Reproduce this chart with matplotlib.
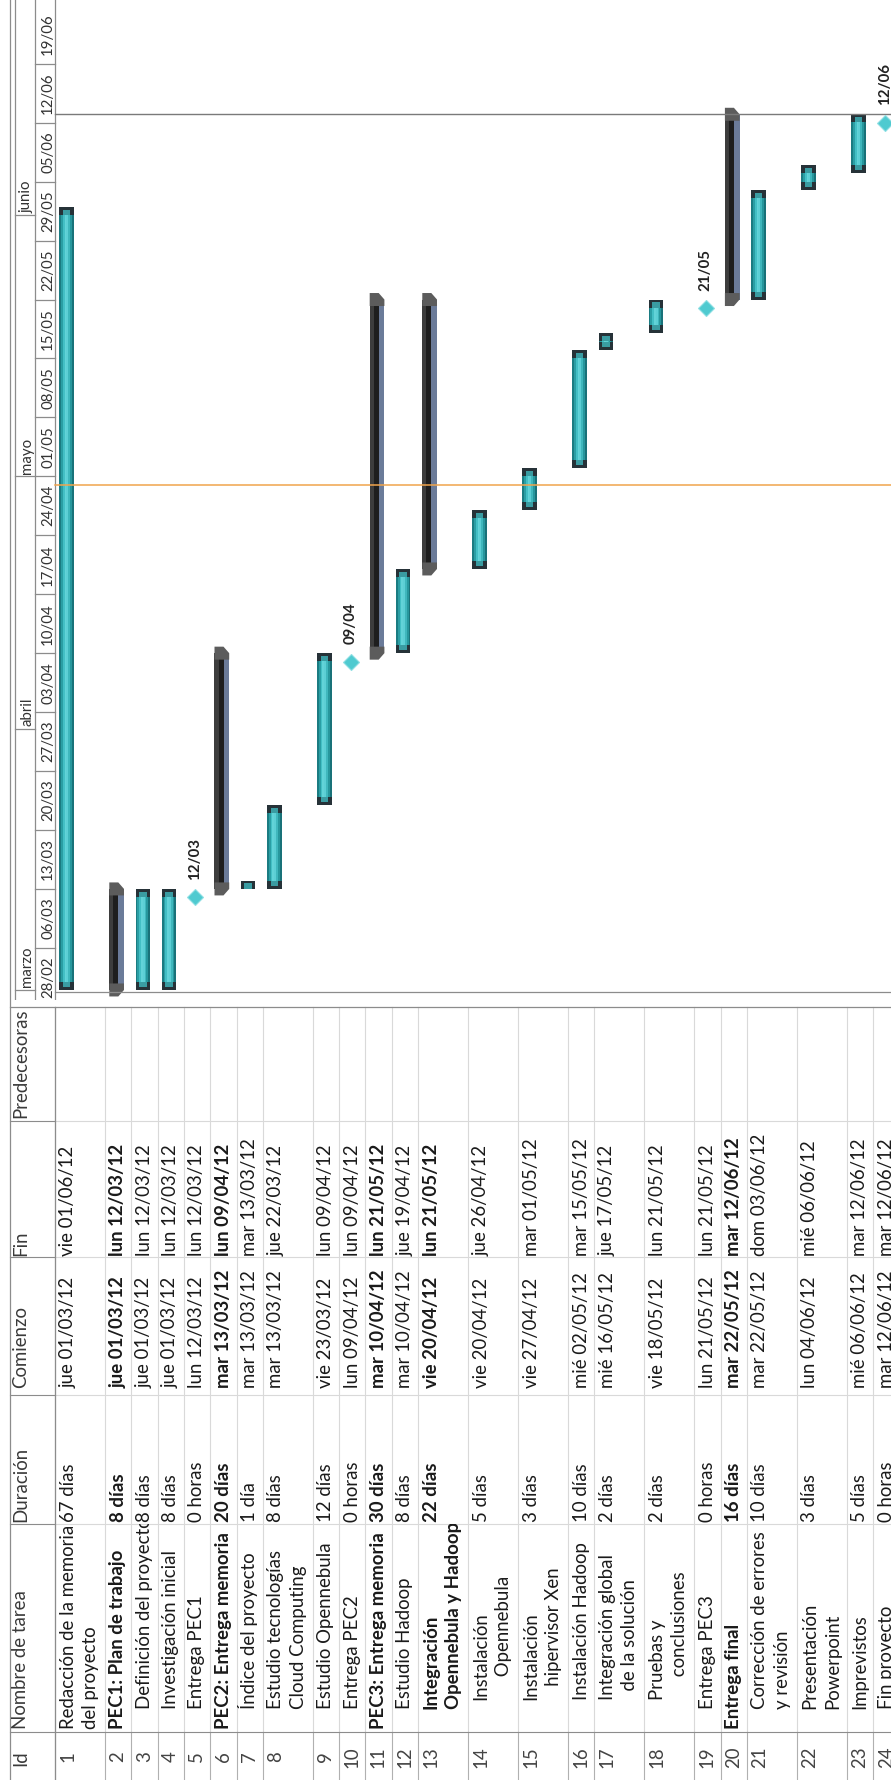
import numpy as np
import matplotlib.pyplot as plt
from datetime import datetime
from matplotlib.transforms import Bbox, TransformedBbox

plt.rcParams['font.family'] = ['Lato', 'DejaVu Sans']

# ---- datos del proyecto (MS Project, vista Gantt girada) ----
columnas = ['Id', 'Nombre de tarea', 'Duración', 'Comienzo', 'Fin', 'Predecesoras']
nombres = [
    'Redacción de la memoria\ndel proyecto',
    'PEC1: Plan de trabajo',
    'Definición del proyecto',
    'Investigación inicial',
    'Entrega PEC1',
    'PEC2: Entrega memoria',
    'Índice del proyecto',
    'Estudio tecnologías\nCloud Computing',
    'Estudio Opennebula',
    'Entrega PEC2',
    'PEC3: Entrega memoria',
    'Estudio Hadoop',
    'Integración\nOpennebula y Hadoop',
    'Instalación\n     Opennebula',
    'Instalación\n   hipervisor Xen',
    'Instalación Hadoop',
    'Integración global\n  de la solución',
    'Pruebas y\n     conclusiones',
    'Entrega PEC3',
    'Entrega final',
    'Corrección de errores\ny revisión',
    'Presentación\nPowerpoint',
    'Imprevistos',
    'Fin proyecto',
]
niveles = [0, 0, 1, 1, 1, 0, 1, 1, 1, 1, 0, 1, 1, 2, 2, 2, 2, 2, 1, 0, 1, 1, 1, 1]
duraciones = ['67 días', '8 días', '8 días', '8 días', '0 horas', '20 días', '1 día', '8 días',
              '12 días', '0 horas', '30 días', '8 días', '22 días', '5 días', '3 días', '10 días',
              '2 días', '2 días', '0 horas', '16 días', '10 días', '3 días', '5 días', '0 horas']
comienzos = ['jue 01/03/12', 'jue 01/03/12', 'jue 01/03/12', 'jue 01/03/12', 'lun 12/03/12',
             'mar 13/03/12', 'mar 13/03/12', 'mar 13/03/12', 'vie 23/03/12', 'lun 09/04/12',
             'mar 10/04/12', 'mar 10/04/12', 'vie 20/04/12', 'vie 20/04/12', 'vie 27/04/12',
             'mié 02/05/12', 'mié 16/05/12', 'vie 18/05/12', 'lun 21/05/12', 'mar 22/05/12',
             'mar 22/05/12', 'lun 04/06/12', 'mié 06/06/12', 'mar 12/06/12']
fines = ['vie 01/06/12', 'lun 12/03/12', 'lun 12/03/12', 'lun 12/03/12', 'lun 12/03/12',
         'lun 09/04/12', 'mar 13/03/12', 'jue 22/03/12', 'lun 09/04/12', 'lun 09/04/12',
         'lun 21/05/12', 'jue 19/04/12', 'lun 21/05/12', 'jue 26/04/12', 'mar 01/05/12',
         'mar 15/05/12', 'jue 17/05/12', 'lun 21/05/12', 'lun 21/05/12', 'mar 12/06/12',
         'dom 03/06/12', 'mié 06/06/12', 'mar 12/06/12', 'mar 12/06/12']
resumen = [2, 6, 11, 13, 20]
hitos = [5, 10, 19, 24]
semanas = ['28/02', '06/03', '13/03', '20/03', '27/03', '03/04', '10/04', '17/04', '24/04',
           '01/05', '08/05', '15/05', '22/05', '29/05', '05/06', '12/06', '19/06']
meses = ['marzo', 'abril', 'mayo', 'junio']
inicio_meses = ['01/03', '01/04', '01/05', '01/06']
hoy = '30/04'


def dia(txt):
    f = txt.split()[-1]
    if len(f) == 5:
        f += '/12'
    return (datetime.strptime(f, '%d/%m/%y') - datetime(2012, 2, 28)).days


# ---- geometria (pixeles de la captura) ----
ANCHO, ALTO = 891, 1780
PX_DIA, Y_DIA0, ALTO_G = 8.42, 1006.8, 1000
borde_col = [1780, 1731.7, 1524, 1395, 1257, 1120.7, 1006.7]
ini_texto = [1757, 1729, 1521.5, 1388, 1256, 1118]
sangria = [0, 20, 29]
alto_fila = [26.3 + 23.7 * n.count('\n') for n in nombres]
x_fila = 55 + np.concatenate([[0], np.cumsum(alto_fila)[:-1]])
fin_filas = x_fila[-1] + alto_fila[-1]

fig = plt.figure(figsize=(ANCHO / 100, ALTO / 100), dpi=100)
rend = fig.canvas.get_renderer()


def ajustar(txt, ancho, peso='normal'):
    t = fig.text(0, 0, txt, fontsize=10, fontweight=peso)
    w = t.get_window_extent(rend).width
    t.remove()
    return 10 * ancho / w


fs = ajustar('Redacción de la memoria', 204)
fs_sem = ajustar('05/06', 41.5)
fs_hito = ajustar('12/03', 42, 'bold')

gris = '#8c8c8c'
claro = '#d9d9d9'

# ---- tabla ----
ax_t = fig.add_axes([0, 0, 1, 1])
ax_t.set_xlim(0, ANCHO)
ax_t.set_ylim(ALTO, 0)
ax_t.axis('off')

for x in list(x_fila) + [fin_filas]:
    ax_t.plot([x, x], [borde_col[-1], borde_col[1]], color=claro, lw=0.8)
    ax_t.plot([x, x], [borde_col[1], ALTO], color='#b0b0b0', lw=0.8)
for y in borde_col[2:-1]:
    ax_t.plot([55, ANCHO], [y, y], color=claro, lw=0.8)
    ax_t.plot([10, 55], [y, y], color=gris, lw=0.8)
ax_t.plot([10, ANCHO], [borde_col[1], borde_col[1]], color=gris, lw=0.8)
ax_t.plot([10, ANCHO], [borde_col[-1], borde_col[-1]], color=gris, lw=0.9)
ax_t.plot([55, 55], [borde_col[-1], ALTO], color=gris, lw=0.9)
ax_t.plot([10, 10], [0, ALTO], color=gris, lw=0.9)

for c, y0 in zip(columnas, [1766.5] + ini_texto[1:]):
    ax_t.text(26.5, y0, c, rotation=90, rotation_mode='anchor', ha='left', va='baseline',
              fontsize=fs, color='#3a3a3a')

for i, nom in enumerate(nombres):
    x0 = x_fila[i]
    peso = 'bold' if i + 1 in resumen else 'normal'
    base = x0 + 18.5
    ax_t.text(base, ini_texto[0], str(i + 1), rotation=90, rotation_mode='anchor',
              ha='center', va='baseline', fontsize=fs, color='#444444')
    celda = TransformedBbox(Bbox([[x0, borde_col[2]], [x0 + alto_fila[i], borde_col[1]]]),
                            ax_t.transData)
    for k, linea in enumerate(nom.split('\n')):
        t = ax_t.text(base + 22.6 * k, ini_texto[1] - sangria[niveles[i]], linea, rotation=90,
                      rotation_mode='anchor', ha='left', va='baseline', fontsize=fs,
                      fontweight=peso, color='#1a1a1a')
        t.set_clip_box(celda)
        t.set_clip_on(True)
    for txt, y0 in zip([duraciones[i], comienzos[i], fines[i]], ini_texto[2:5]):
        ax_t.text(base, y0, txt, rotation=90, rotation_mode='anchor', ha='left',
                  va='baseline', fontsize=fs, fontweight=peso, color='#1a1a1a')

# ---- diagrama de Gantt ----
ax_g = fig.add_axes([0, 1 - ALTO_G / ALTO, 1, ALTO_G / ALTO])
ax_g.set_xlim(0, ANCHO)
ax_g.set_ylim((Y_DIA0 - ALTO_G) / PX_DIA, Y_DIA0 / PX_DIA)
ax_g.axis('off')

d_min, d_max = ax_g.get_ylim()
for x in (15, 35, 55):
    ax_g.plot([x, x], [d_min, d_max], color=gris, lw=0.9)
ax_g.plot([55, ANCHO], [(Y_DIA0 - 991.7) / PX_DIA] * 2, color=gris, lw=0.9)

for s in semanas:
    d = dia(s)
    ax_g.plot([35, 55], [d, d], color=gris, lw=0.9)
    ax_g.text(52, d + 3.5, s, rotation=90, rotation_mode='anchor', ha='center',
              va='baseline', fontsize=fs_sem, color='#333333', clip_on=True)
for m, f in zip(meses, inicio_meses):
    d = dia(f)
    ax_g.plot([15, 35], [d, d], color=gris, lw=0.9)
    ax_g.text(31, d + 0.3, m, rotation=90, rotation_mode='anchor', ha='left',
              va='baseline', fontsize=fs_sem, color='#333333', clip_on=True)

# linea de hoy y fin del proyecto
ax_g.plot([55, ANCHO], [dia(hoy)] * 2, color='#f0a44c', lw=1.1)
d_fin = max(dia(f) for f in fines) + 1
ax_g.plot([55, ANCHO], [d_fin] * 2, color='#7a7a7a', lw=1.0)

degradado = ['#1b7c82', '#2a9ea4', '#43bfc5', '#62d3d8', '#5ccfd5', '#3fb7bd', '#27979d', '#197279']
tapa = 8 / PX_DIA
hueco = 2.8 / PX_DIA
punta = 6.5 / PX_DIA

for i in range(len(nombres)):
    x0 = x_fila[i]
    s, e = dia(comienzos[i]), dia(fines[i]) + 1
    if i + 1 in hitos:
        xc = x0 + 11.5
        ax_g.plot(xc, s, marker='D', ms=8.5, mfc='#4fcad0', mec='#8fdfe3', mew=0.8)
        ax_g.annotate(comienzos[i].split()[1][:5], (xc, s), xytext=(0, 12.5),
                      textcoords='offset points', rotation=90, rotation_mode='anchor',
                      ha='left', va='center', fontsize=fs_hito, fontweight='bold',
                      color='#222222')
    elif i + 1 in resumen:
        ax_g.bar(x0 + 6.3, e - s, bottom=s, width=4.2, color='#3d3d3d', lw=0)
        ax_g.bar(x0 + 11.0, e - s, bottom=s, width=5.4, color='#1e1e1e', lw=0)
        ax_g.bar(x0 + 16.2, e - s, bottom=s, width=5.6, color='#6b7b99', lw=0)
        for base, signo in ((s, -1), (e, 1)):
            xs = [x0 + 4.3, x0 + 19, x0 + 19, x0 + 13.3, x0 + 4.3]
            ys = [base - signo * punta, base - signo * punta, base,
                  base + signo * punta, base + signo * punta]
            ax_g.fill(xs, ys, color='#5c5c5c', lw=0)
    else:
        w = 14.4 / len(degradado)
        for k, c in enumerate(degradado):
            ax_g.bar(x0 + 4.3 + (k + 0.5) * w, e - s, bottom=s, width=w * 1.08,
                     color=c, lw=0)
        for base, signo in ((s, 1), (e, -1)):
            ax_g.bar(x0 + 11.5, signo * tapa, bottom=base, width=14.4, color='#263238', lw=0)
            ax_g.bar(x0 + 11.5, signo * (tapa - hueco), bottom=base + signo * hueco,
                     width=7.6, color='#3a9ca2', lw=0)

fig.savefig('out.png', dpi=100)
